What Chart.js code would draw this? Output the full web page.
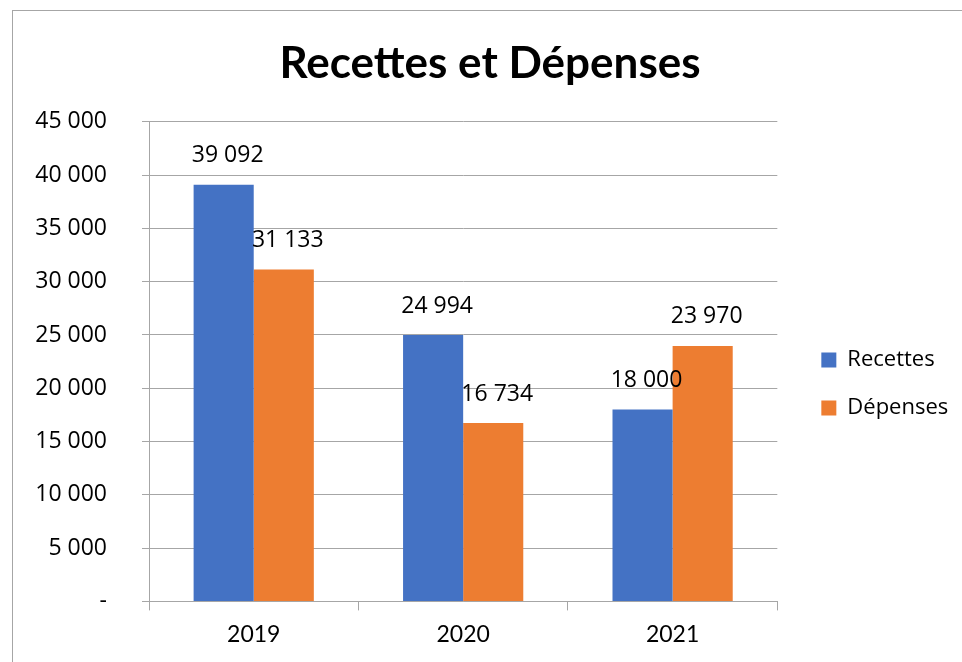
<!DOCTYPE html>
<html>
<head>
<meta charset="utf-8">
<script src="https://cdn.jsdelivr.net/npm/chart.js@4"></script>
<style>
  html, body { margin: 0; padding: 0; background: #fff; overflow: hidden; }
  #cadre {
    position: absolute; left: 12px; top: 10px;
    width: 960px; height: 660px;
    border-left: 1.5px solid #a6a6a6; border-top: 1.5px solid #a6a6a6;
  }
  #graf { position: absolute; left: 1px; top: 1px; }
</style>
</head>
<body>
<div id="cadre"><canvas id="graf" width="949" height="651"></canvas></div>
<script>
// données du graphique
const annees = ['2019', '2020', '2021'];
const recettes = [39092, 24994, 18000];
const depenses = [31133, 16734, 23970];
const titre = 'Recettes et Dépenses';

// format français : espace pour les milliers, tiret pour zéro
function formatNombre(v) {
    if (v === 0) return '-';
    return String(v).replace(/\B(?=(\d{3})+(?!\d))/g, ' ');
}

// étiquettes au-dessus des barres
const etiquettes = {
    id: 'etiquettes',
    afterDatasetsDraw(chart) {
        const ctx = chart.ctx;
        ctx.save();
        ctx.font = '23px "Open Sans"';
        ctx.fillStyle = '#000';
        ctx.textAlign = 'center';
        ctx.textBaseline = 'middle';
        chart.data.datasets.forEach((ds, i) => {
            chart.getDatasetMeta(i).data.forEach((bar, j) => {
                ctx.fillText(formatNombre(ds.data[j]), bar.x + 4, bar.y - 29);
            });
        });
        ctx.restore();
    }
};

const ctx = document.getElementById('graf').getContext('2d');
new Chart(ctx, {
    type: 'bar',
    data: {
        labels: annees,
        datasets: [{
            label: 'Recettes',
            data: recettes,
            backgroundColor: '#4472C4',
            borderWidth: 0
        }, {
            label: 'Dépenses',
            data: depenses,
            backgroundColor: '#ED7D31',
            borderWidth: 0
        }]
    },
    options: {
        responsive: false,
        animation: false,
        layout: { padding: { left: 18, right: 15, bottom: 5 } },
        datasets: {
            bar: { categoryPercentage: 0.574, barPercentage: 1 }
        },
        plugins: {
            title: {
                display: true,
                text: titre,
                color: '#000',
                font: { family: 'Lato', size: 44, weight: 'bold' },
                padding: { top: 25, bottom: 32 }
            },
            legend: {
                position: 'right',
                title: {
                    display: true,
                    text: ' ',
                    font: { size: 10 },
                    padding: { top: 43, bottom: 43 }
                },
                labels: {
                    color: '#000',
                    font: { family: '"Open Sans"', size: 22 },
                    boxWidth: 15,
                    boxHeight: 15,
                    padding: 26
                }
            },
            tooltip: { enabled: false }
        },
        scales: {
            x: {
                grid: {
                    drawOnChartArea: false,
                    drawTicks: true,
                    tickLength: 9,
                    color: '#a6a6a6'
                },
                border: { color: '#a6a6a6' },
                ticks: {
                    color: '#000',
                    font: { family: 'Lato', size: 23 },
                    padding: 10
                }
            },
            y: {
                min: 0,
                max: 45000,
                afterFit: (s) => { s.width = 117; },
                grid: {
                    color: '#a6a6a6',
                    tickLength: 7
                },
                border: { color: '#a6a6a6' },
                ticks: {
                    stepSize: 5000,
                    color: '#000',
                    font: { family: '"Open Sans"', size: 23 },
                    padding: 35,
                    callback: (v) => formatNombre(v)
                }
            },
            // axe vide à droite : écart entre la zone du graphique et la légende
            marge: {
                position: 'right',
                afterFit: (s) => { s.width = 18; },
                grid: { display: false },
                border: { display: false },
                ticks: { display: false }
            }
        }
    },
    plugins: [etiquettes]
});
</script>
</body>
</html>
